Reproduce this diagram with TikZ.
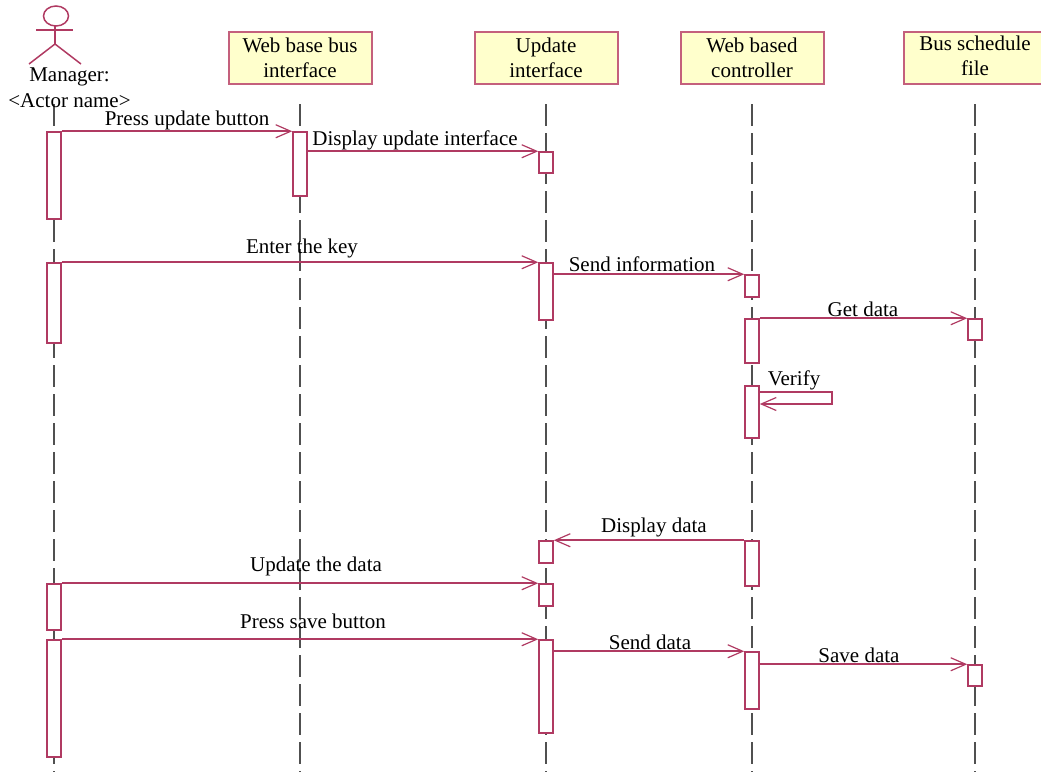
\documentclass[tikz,border=0pt]{standalone}
\usepackage{fontspec}
\setmainfont{Liberation Serif}
\usepackage{xcolor}
\usetikzlibrary{arrows.meta}
\definecolor{umlline}{HTML}{B03A62}
\definecolor{umlborder}{HTML}{C4607C}
\definecolor{umlfill}{HTML}{FFFFCC}
\definecolor{lifegray}{HTML}{505050}

\begin{document}
\begin{tikzpicture}
		[x=1pt,y=-1pt,
		every node/.style={font=\fontsize{21}{25}\selectfont,text=black},
		head/.style={draw=umlborder,fill=umlfill,line width=2pt,minimum width=143pt,minimum height=52pt,inner sep=0pt,align=center},
		act/.style={draw=umlline,fill=white,line width=1.5pt,minimum width=14pt,inner sep=0pt},
		msg/.style={draw=umlline,line width=1.8pt,-{Straight Barb[length=15pt,width=13pt,line width=1.2pt]}},
		lifeline/.style={draw=lifegray,line width=1.8pt,dash pattern=on 22pt off 7pt},
		actor/.style={draw=umlline,line width=1.5pt},
		lab/.style={inner sep=0pt,anchor=center}]
		\useasboundingbox (0,0) rectangle (1041,772);
		\foreach \x/\n in {54/m,300/w,546/u,752/c,975/b}{
			\coordinate (top\n) at (\x,104);
			\coordinate (bot\n) at (\x,772);
			\draw[lifeline] (top\n) -- (bot\n);
		}
		\node[head] (webbus) at (300,58) {Web base bus\\interface};
		\node[head] (update) at (546,58) {Update\\interface};
		\node[head] (control) at (752,58) {Web based\\controller};
		\node[head] (file) at (975,58) {\raisebox{2pt}{\begin{tabular}{@{}c@{}}Bus schedule\\file\end{tabular}}};
		\draw[actor] (56,16) ellipse [x radius=12.5,y radius=10];
		\draw[actor] (55,26) -- (55,44);
		\draw[actor] (36,30) -- (73,30);
		\draw[actor] (29,64) -- (55,44) -- (81,64);
		\node[lab] (mgr) at (69.5,77) {Manager:};
		\node[lab] (mgrname) at (69.5,101) {<Actor name>};
		\node[act,minimum height=87pt] (m1) at (54,175.5) {};
		\node[act,minimum height=80pt] (m2) at (54,303) {};
		\node[act,minimum height=46pt] (m3) at (54,607) {};
		\node[act,minimum height=117pt] (m4) at (54,698.5) {};
		\node[act,minimum height=64pt] (w1) at (300,164) {};
		\node[act,minimum height=21pt] (u1) at (546,162.5) {};
		\node[act,minimum height=57pt] (u2) at (546,291.5) {};
		\node[act,minimum height=22pt] (u3) at (546,552) {};
		\node[act,minimum height=22pt] (u4) at (546,595) {};
		\node[act,minimum height=93pt] (u5) at (546,686.5) {};
		\node[act,minimum height=22pt] (c1) at (752,286) {};
		\node[act,minimum height=44pt] (c2) at (752,341) {};
		\node[act,minimum height=52pt] (c3) at (752,412) {};
		\node[act,minimum height=45pt] (c4) at (752,563.5) {};
		\node[act,minimum height=57pt] (c5) at (752,680.5) {};
		\node[act,minimum height=21pt] (b1) at (975,329.5) {};
		\node[act,minimum height=21pt] (b2) at (975,675.5) {};
		\draw[msg] (m1.north east) -- (w1.north west);
		\draw[msg] (w1.east |- u1.north) -- (u1.north west);
		\draw[msg] (m2.north east) -- (u2.north west);
		\draw[msg] (u2.east |- c1.north) -- (c1.north west);
		\draw[msg] (c2.north east) -- (b1.north west);
		\coordinate (v1) at (c3.east |- 0,392);
		\coordinate (v2) at (832,392);
		\coordinate (v3) at (832,404);
		\coordinate (v4) at (c3.east |- 0,404);
		\draw[msg] (v1) -- (v2) -- (v3) -- (v4);
		\draw[msg] (c4.north west) -- (u3.north east);
		\draw[msg] (m3.north east) -- (u4.north west);
		\draw[msg] (m4.north east) -- (u5.north west);
		\draw[msg] (u5.east |- c5.north) -- (c5.north west);
		\draw[msg] (c5.east |- b2.north) -- (b2.north west);
		\node[lab] (l1) at (187,120) {Press update button};
		\node[lab] (l2) at (415,140) {Display update interface};
		\node[lab] (l3) at (302,248) {Enter the key};
		\node[lab] (l4) at (642,264) {Send information};
		\node[lab] (l5) at (863,309) {Get data};
		\node[lab] (l6) at (794,380) {Verify};
		\node[lab] (l7) at (654,527) {Display data};
		\node[lab] (l8) at (316,566) {Update the data};
		\node[lab] (l9) at (313,621) {Press save button};
		\node[lab] (l10) at (650,642) {Send data};
		\node[lab] (l11) at (859,655) {Save data};
\end{tikzpicture}
\end{document}
